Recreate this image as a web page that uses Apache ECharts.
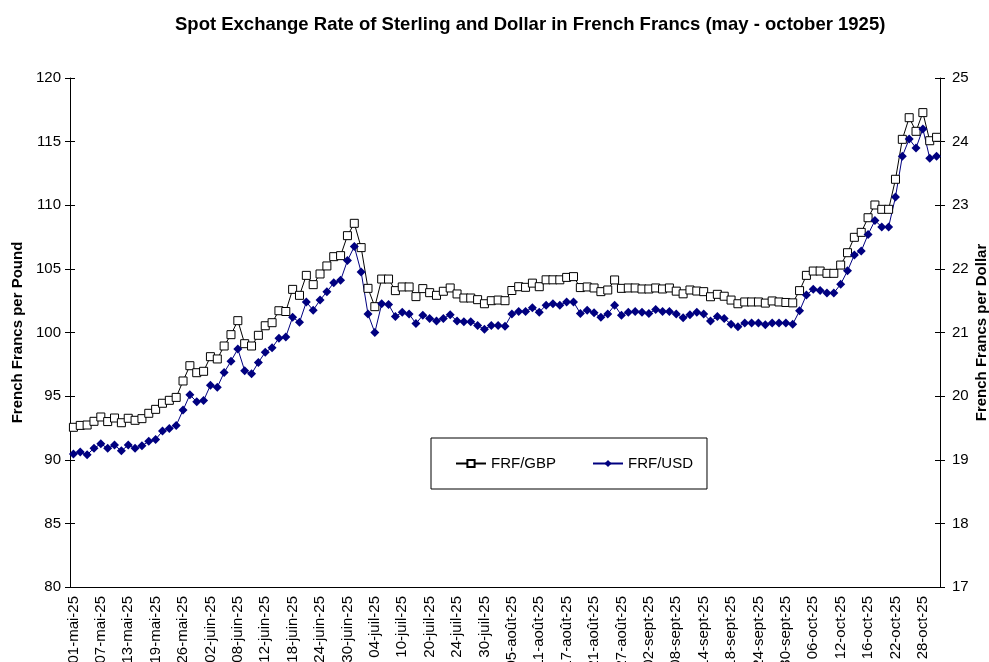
<!DOCTYPE html>
<html>
<head>
<meta charset="utf-8">
<script src="https://cdn.jsdelivr.net/npm/echarts@6/dist/echarts.min.js"></script>
<style>
  html, body { margin: 0; padding: 0; background: #fff; }
  #chart { width: 989px; height: 662px; }
</style>
</head>
<body>
<div id="chart"></div>
<script>
// trading days, may - october 1925
var dates = [
  "01-mai-25", "02-mai-25", "04-mai-25", "06-mai-25",
  "07-mai-25", "08-mai-25", "09-mai-25", "11-mai-25",
  "13-mai-25", "14-mai-25", "15-mai-25", "16-mai-25",
  "19-mai-25", "20-mai-25", "22-mai-25", "23-mai-25",
  "26-mai-25", "27-mai-25", "28-mai-25", "29-mai-25",
  "02-juin-25", "03-juin-25", "04-juin-25", "05-juin-25",
  "08-juin-25", "09-juin-25", "10-juin-25", "11-juin-25",
  "12-juin-25", "13-juin-25", "15-juin-25", "16-juin-25",
  "18-juin-25", "19-juin-25", "20-juin-25", "22-juin-25",
  "24-juin-25", "25-juin-25", "26-juin-25", "27-juin-25",
  "30-juin-25", "01-juil-25", "02-juil-25", "03-juil-25",
  "04-juil-25", "06-juil-25", "07-juil-25", "08-juil-25",
  "10-juil-25", "11-juil-25", "16-juil-25", "17-juil-25",
  "20-juil-25", "21-juil-25", "22-juil-25", "23-juil-25",
  "24-juil-25", "25-juil-25", "27-juil-25", "28-juil-25",
  "30-juil-25", "31-juil-25", "01-août-25", "03-août-25",
  "05-août-25", "06-août-25", "07-août-25", "08-août-25",
  "11-août-25", "12-août-25", "13-août-25", "14-août-25",
  "17-août-25", "18-août-25", "19-août-25", "20-août-25",
  "21-août-25", "22-août-25", "24-août-25", "25-août-25",
  "27-août-25", "28-août-25", "29-août-25", "31-août-25",
  "02-sept-25", "03-sept-25", "04-sept-25", "05-sept-25",
  "08-sept-25", "09-sept-25", "10-sept-25", "11-sept-25",
  "14-sept-25", "15-sept-25", "16-sept-25", "17-sept-25",
  "18-sept-25", "19-sept-25", "21-sept-25", "22-sept-25",
  "24-sept-25", "25-sept-25", "26-sept-25", "28-sept-25",
  "30-sept-25", "01-oct-25", "02-oct-25", "03-oct-25",
  "06-oct-25", "07-oct-25", "08-oct-25", "09-oct-25",
  "12-oct-25", "13-oct-25", "14-oct-25", "15-oct-25",
  "16-oct-25", "17-oct-25", "19-oct-25", "20-oct-25",
  "22-oct-25", "23-oct-25", "24-oct-25", "26-oct-25",
  "28-oct-25", "29-oct-25", "30-oct-25"
];

// francs per pound sterling (left axis)
var frfGbp = [
  92.55, 92.70, 92.73, 93.02, 93.36, 93.00, 93.28, 92.91, 93.26, 93.10,
  93.23, 93.65, 93.96, 94.44, 94.67, 94.90, 96.19, 97.39, 96.84, 96.95,
  98.10, 97.92, 98.94, 99.83, 100.93, 99.12, 98.94, 99.78, 100.53, 100.77,
  101.71, 101.65, 103.39, 102.92, 104.49, 103.76, 104.60, 105.23, 105.96, 106.04,
  107.61, 108.58, 106.67, 103.47, 102.03, 104.20, 104.20, 103.29, 103.58, 103.58,
  102.82, 103.45, 103.13, 102.92, 103.24, 103.50, 103.03, 102.71, 102.71, 102.58,
  102.26, 102.50, 102.55, 102.50, 103.30, 103.60, 103.55, 103.88, 103.60, 104.14,
  104.14, 104.14, 104.33, 104.39, 103.53, 103.58, 103.50, 103.21, 103.34, 104.13,
  103.47, 103.50, 103.50, 103.42, 103.42, 103.50, 103.42, 103.50, 103.25, 103.04,
  103.34, 103.26, 103.21, 102.81, 103.00, 102.85, 102.55, 102.26, 102.40, 102.40,
  102.40, 102.31, 102.48, 102.40, 102.36, 102.33, 103.29, 104.49, 104.83, 104.83,
  104.65, 104.65, 105.30, 106.27, 107.48, 107.87, 109.02, 110.02, 109.68, 109.68,
  112.04, 115.18, 116.88, 115.81, 117.28, 115.07, 115.34
];

// francs per dollar (right axis)
var frfUsd = [
  19.09, 19.12, 19.08, 19.18, 19.25, 19.18, 19.23, 19.14, 19.23, 19.18,
  19.22, 19.29, 19.32, 19.45, 19.49, 19.54, 19.78, 20.02, 19.91, 19.93,
  20.17, 20.14, 20.37, 20.55, 20.74, 20.40, 20.35, 20.53, 20.69, 20.76,
  20.91, 20.93, 21.24, 21.16, 21.48, 21.35, 21.51, 21.64, 21.78, 21.82,
  22.13, 22.35, 21.95, 21.29, 21.00, 21.45, 21.44, 21.25, 21.32, 21.29,
  21.14, 21.27, 21.22, 21.18, 21.22, 21.28, 21.18, 21.17, 21.17, 21.11,
  21.05, 21.11, 21.11, 21.10, 21.29, 21.33, 21.33, 21.39, 21.32, 21.43,
  21.45, 21.43, 21.48, 21.48, 21.30, 21.35, 21.31, 21.24, 21.29, 21.43,
  21.27, 21.32, 21.33, 21.32, 21.30, 21.36, 21.33, 21.33, 21.29, 21.23,
  21.28, 21.32, 21.29, 21.18, 21.25, 21.22, 21.13, 21.09, 21.15, 21.15,
  21.15, 21.12, 21.15, 21.15, 21.15, 21.13, 21.34, 21.59, 21.68, 21.66,
  21.62, 21.62, 21.76, 21.97, 22.22, 22.28, 22.54, 22.76, 22.66, 22.66,
  23.13, 23.77, 24.04, 23.90, 24.20, 23.74, 23.77
];

var FONT = "Liberation Sans, Arial, sans-serif";

var chart = echarts.init(document.getElementById("chart"), null, { renderer: "canvas" });

// excel style ticks cross the axis: a second, label-less copy of each axis draws the inside half
function ghostY(min, max, interval, pos) {
  return {
    type: "value", position: pos, min: min, max: max, interval: interval,
    axisLine: { show: false },
    axisTick: { show: true, inside: true, length: 5, lineStyle: { color: "#000" } },
    axisLabel: { show: false },
    splitLine: { show: false }
  };
}

chart.setOption({
  backgroundColor: "#fff",
  animation: false,
  title: {
    text: "Spot Exchange Rate of Sterling and Dollar in French Francs (may - october 1925)",
    left: 170,
    top: 10,
    textStyle: { fontFamily: FONT, fontSize: 18.5, fontWeight: "bold", color: "#000" }
  },
  grid: { left: 70, right: 49, top: 78, bottom: 75, containLabel: false, outerBoundsMode: "none" },
  legend: {
    left: 431,
    top: 438,
    width: 282,
    itemGap: 36,
    itemWidth: 30,
    itemHeight: 9,
    padding: [18, 14, 18, 24],
    borderColor: "#000",
    borderWidth: 1,
    backgroundColor: "#fff",
    textStyle: { fontFamily: FONT, fontSize: 15, color: "#000" },
    data: ["FRF/GBP", "FRF/USD"]
  },
  xAxis: [{
    type: "category",
    data: dates,
    boundaryGap: true,
    axisLine: { lineStyle: { color: "#000", width: 1 } },
    axisTick: { interval: 0, length: 5, lineStyle: { color: "#000" } },
    axisLabel: {
      interval: 3, rotate: 90, margin: 9,
      fontFamily: FONT, fontSize: 15, color: "#000"
    },
    splitLine: { show: false }
  }, {
    type: "category",
    data: dates,
    position: "bottom",
    boundaryGap: true,
    axisLine: { show: false },
    axisTick: { interval: 0, inside: true, length: 5, lineStyle: { color: "#000" } },
    axisLabel: { show: false },
    splitLine: { show: false }
  }],
  yAxis: [{
    type: "value",
    position: "left",
    min: 80, max: 120, interval: 5,
    name: "French Francs per Pound",
    nameLocation: "middle",
    nameRotate: 90,
    nameGap: 45,
    nameMoveOverlap: false,
    nameTextStyle: { fontFamily: FONT, fontSize: 15, fontWeight: "bold", color: "#000" },
    axisLine: { show: true, lineStyle: { color: "#000", width: 1 } },
    axisTick: { show: true, length: 5, lineStyle: { color: "#000" } },
    axisLabel: { margin: 9, fontFamily: FONT, fontSize: 15, color: "#000" },
    splitLine: { show: false }
  }, {
    type: "value",
    position: "right",
    min: 17, max: 25, interval: 1,
    name: "French Francs per Dollar",
    nameLocation: "middle",
    nameRotate: 90,
    nameGap: 34,
    nameMoveOverlap: false,
    nameTextStyle: { fontFamily: FONT, fontSize: 15, fontWeight: "bold", color: "#000" },
    axisLine: { show: true, lineStyle: { color: "#000", width: 1 } },
    axisTick: { show: true, length: 5, lineStyle: { color: "#000" } },
    axisLabel: { margin: 12, fontFamily: FONT, fontSize: 15, color: "#000" },
    splitLine: { show: false }
  },
    ghostY(80, 120, 5, "left"),
    ghostY(17, 25, 1, "right")
  ],
  series: [{
    name: "FRF/GBP",
    type: "line",
    xAxisIndex: 0,
    yAxisIndex: 0,
    data: frfGbp,
    symbol: "rect",
    symbolSize: 8,
    showAllSymbol: true,
    itemStyle: { color: "#fff", borderColor: "#000", borderWidth: 1 },
    lineStyle: { color: "#000", width: 1 },
    emphasis: { disabled: true }
  }, {
    name: "FRF/USD",
    type: "line",
    xAxisIndex: 0,
    yAxisIndex: 1,
    data: frfUsd,
    symbol: "diamond",
    symbolSize: 9,
    showAllSymbol: true,
    itemStyle: { color: "#000080", borderColor: "#000080", borderWidth: 0 },
    lineStyle: { color: "#000080", width: 1 },
    emphasis: { disabled: true }
  }]
});
</script>
</body>
</html>
